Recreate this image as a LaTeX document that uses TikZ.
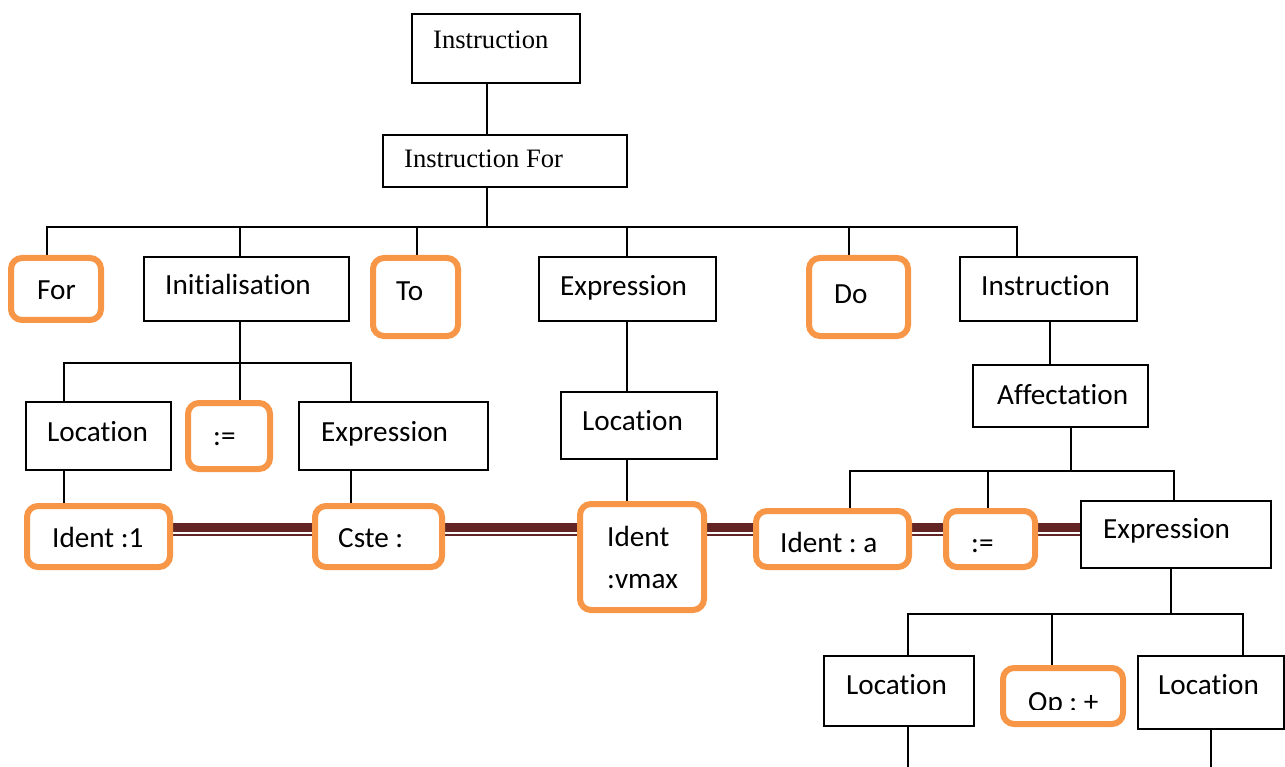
\documentclass[tikz,border=0pt]{standalone}
\usepackage{fontspec}
\setmainfont{Carlito}[Ligatures=NoCommon]
\newfontfamily\tmsfam{Liberation Serif}[Ligatures=NoCommon]
\usetikzlibrary{backgrounds}
\definecolor{orangeC}{HTML}{F79646}
\definecolor{brownC}{HTML}{632523}
\newcommand\calfont{\fontsize{29.2}{35}\selectfont}
\newcommand\tmsfont{\tmsfam\fontsize{26.6}{32}\selectfont}
\frenchspacing
\tikzset{
  box/.style={draw, line width=2pt, fill=white, inner sep=0pt, outer sep=0pt, anchor=north west},
  obox/.style={draw=orangeC, line width=6pt, rounded corners=11pt, fill=white, inner sep=0pt, outer sep=0pt, anchor=north west},
  lbl/.style={anchor=base west, inner sep=0pt, font=\calfont},
  tlbl/.style={anchor=base west, inner sep=0pt, font=\tmsfont},
  conn/.style={line width=1.8pt},
  barthick/.style={draw=brownC, line width=9pt},
  barthin/.style={draw=brownC, line width=2.5pt}
}
\begin{document}
\frenchspacing
\begin{tikzpicture}[x=1pt,y=-1pt]
\useasboundingbox (0,0) rectangle (1285,767);
% rectangles
\node[box, minimum width=168pt, minimum height=69pt] (instr) at (412,14) {};
\node[box, minimum width=244pt, minimum height=52pt] (ifor) at (383,135) {};
\node[box, minimum width=205pt, minimum height=64pt] (init) at (144,257) {};
\node[box, minimum width=177pt, minimum height=64pt] (expr1) at (539,257) {};
\node[box, minimum width=177pt, minimum height=64pt] (instr1) at (960,257) {};
\node[box, minimum width=145pt, minimum height=68pt] (locL) at (26,402) {};
\node[box, minimum width=189pt, minimum height=68pt] (exprL) at (299,402) {};
\node[box, minimum width=156pt, minimum height=67pt] (locM) at (561,392) {};
\node[box, minimum width=175pt, minimum height=62pt] (affect) at (973,365) {};
\node[box, minimum width=190pt, minimum height=67pt] (exprR) at (1081,501) {};
\node[box, minimum width=150pt, minimum height=70pt] (locLL) at (824,656) {};
\node[box, minimum width=146pt, minimum height=73pt] (locLR) at (1138,656) {};
% orange rounded boxes
\node[obox, minimum width=90pt, minimum height=62pt] (for) at (11,258) {};
\node[obox, minimum width=85pt, minimum height=78pt] (to) at (373,258) {};
\node[obox, minimum width=99pt, minimum height=78pt] (do) at (809,258) {};
\node[obox, minimum width=82pt, minimum height=66pt] (asgL) at (188,403) {};
\node[obox, minimum width=143pt, minimum height=61pt] (id1) at (27,506) {};
\node[obox, minimum width=127pt, minimum height=61pt] (cste) at (315,506) {};
\node[obox, minimum width=124pt, minimum height=106pt] (vmax) at (580,504) {};
\node[obox, minimum width=153pt, minimum height=56pt] (ida) at (756,511) {};
\node[obox, minimum width=89pt, minimum height=56pt] (asgR) at (946,511) {};
\node[obox, minimum width=120pt, minimum height=56pt] (op) at (1003,668) {};
% texts
\node[tlbl] (tInstr) at (433,49) {Instruction};
\node[tlbl] (tIfor) at (404,168) {Instruction For};
\node[lbl] (tFor) at (37,300) {For};
\node[lbl] (tInit) at (165,295) {Initialisation};
\node[lbl] (tTo) at (396,301) {To};
\node[lbl] (tExpr1) at (560,296) {Expression};
\node[lbl] (tDo) at (834,304) {Do};
\node[lbl] (tInstr1) at (981,296) {Instruction};
\node[lbl] (tLocL) at (47,441) {Location};
\node[lbl] (tAsgL) at (213,445) {:=};
\node[lbl] (tExprL) at (321,441) {Expression};
\node[lbl] (tLocM) at (582,430) {Location};
\node[lbl] (tAffect) at (997,404) {Affectation};
\node[lbl] (tId1) at (52,547) {Ident :1};
\node[lbl] (tCste) at (338,547) {Cste :};
\node[lbl] (tVmaxA) at (607,546) {Ident};
\node[lbl] (tVmaxB) at (607,588) {:vmax};
\node[lbl] (tIda) at (780,552) {Ident : a};
\node[lbl] (tAsgR) at (971,552) {:=};
\node[lbl] (tExprR) at (1103,538) {Expression};
\node[lbl] (tLocLL) at (846,694) {Location};
\node[lbl] (tLocLR) at (1158,694) {Location};
\begin{scope}
  \clip (1003,668) rectangle (1123,709);
  \node[lbl] (tOp) at (1028,711) {Op : +};
\end{scope}
% connectors
\begin{scope}[on background layer]
\coordinate (b1) at (487,227);
\draw[conn] ([xshift=-9pt]instr.south) -- ([xshift=-18pt]ifor.north);
\draw[conn] ([xshift=-18pt]ifor.south) -- (b1);
\draw[conn] ([xshift=-9pt]for.north) |- (b1);
\draw[conn] ([xshift=-6.5pt]init.north) |- (b1);
\draw[conn] ([xshift=1.5pt]to.north) |- (b1);
\draw[conn] ([xshift=-0.5pt]expr1.north) |- (b1);
\draw[conn] ([xshift=-9.5pt]do.north) |- (b1);
\draw[conn] ([xshift=-31.5pt]instr1.north) |- (b1);
\coordinate (b2) at (240,363);
\draw[conn] ([xshift=-6.5pt]init.south) -- (b2);
\draw[conn] ([xshift=-34.5pt]locL.north) |- (b2);
\draw[conn] ([xshift=11pt]asgL.north) |- (b2);
\draw[conn] ([xshift=-42.5pt]exprL.north) |- (b2);
\draw[conn] ([xshift=-34.5pt]locL.south) -- ([xshift=-34.5pt]id1.north);
\draw[conn] ([xshift=-42.5pt]exprL.south) -- ([xshift=-27.5pt]cste.north);
\draw[conn] ([xshift=-0.5pt]expr1.south) -- ([xshift=-12pt]locM.north);
\draw[conn] ([xshift=-12pt]locM.south) -- ([xshift=-15pt]vmax.north);
\draw[conn] ([xshift=1.5pt]instr1.south) -- ([xshift=-10.5pt]affect.north);
\coordinate (b3) at (1071,471);
\draw[conn] ([xshift=10.5pt]affect.south) -- (b3);
\draw[conn] ([xshift=17.5pt]ida.north) |- (b3);
\draw[conn] ([xshift=-2.5pt]asgR.north) |- (b3);
\draw[conn] ([xshift=-2pt]exprR.north) |- (b3);
\coordinate (b4) at (1171,614);
\draw[conn] ([xshift=-5pt]exprR.south) -- (b4);
\draw[conn] ([xshift=9pt]locLL.north) |- (b4);
\draw[conn] ([xshift=-11pt]op.north) |- (b4);
\draw[conn] ([xshift=32pt]locLR.north) |- (b4);
\coordinate (e1) at (908,767);
\coordinate (e2) at (1211,767);
\draw[conn] ([xshift=9pt]locLL.south) -- (e1);
\draw[conn] (locLR.south) -- (e2);
% double bar
\coordinate (bt) at (0,527.5);
\coordinate (bb) at (0,534.8);
\foreach \a/\b in {id1/cste, cste/vmax, vmax/ida, ida/asgR, asgR/exprR} {
  \draw[barthick] (\a.east |- bt) -- (\b.west |- bt);
  \draw[barthin] (\a.east |- bb) -- (\b.west |- bb);
}
\end{scope}
\end{tikzpicture}
\end{document}
